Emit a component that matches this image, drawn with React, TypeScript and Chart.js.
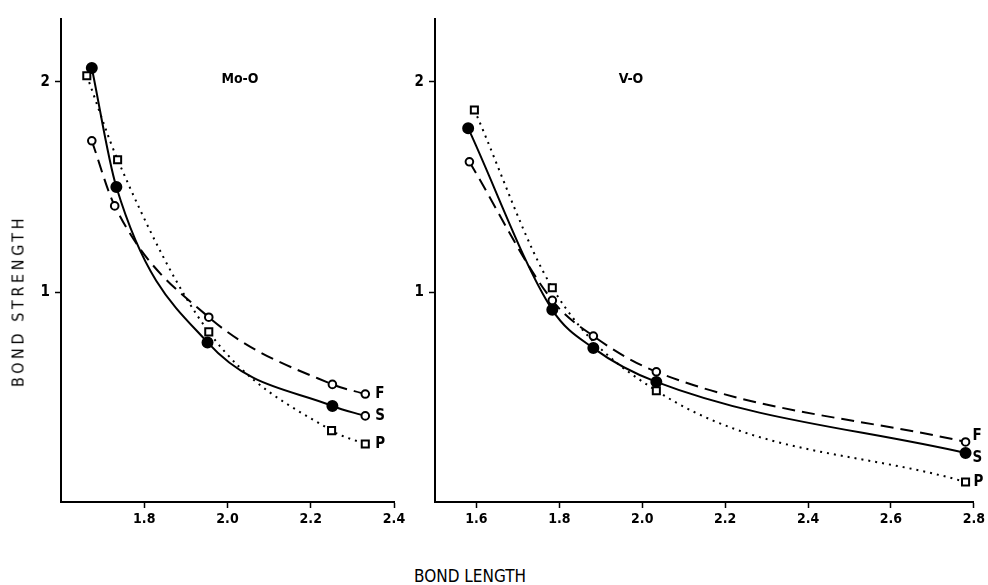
import React, { useEffect, useRef } from "react";
import { Chart, registerables } from "chart.js";

Chart.register(...registerables);

// ---- Mo-O panel data (bond length, bond strength) ----
const moF_x = [1.674, 1.729, 1.955, 2.252, 2.331];
const moF_y = [1.72, 1.41, 0.88, 0.56, 0.514];
const moS_x = [1.674, 1.733, 1.952, 2.252, 2.331];
const moS_y = [2.067, 1.5, 0.76, 0.457, 0.41];
const moP_x = [1.662, 1.736, 1.955, 2.25, 2.331];
const moP_y = [2.03, 1.63, 0.81, 0.34, 0.276];

// ---- V-O panel data ----
const vF_x = [1.583, 1.783, 1.882, 2.034, 2.78];
const vF_y = [1.62, 0.96, 0.79, 0.62, 0.286];
const vS_x = [1.58, 1.783, 1.882, 2.034, 2.78];
const vS_y = [1.78, 0.915, 0.733, 0.572, 0.233];
const vP_x = [1.595, 1.783, 2.034, 2.78];
const vP_y = [1.867, 1.02, 0.53, 0.095];

// ---- axes ----
const moXTicks = [1.8, 2.0, 2.2, 2.4];
const moXLabels = ["1.8", "2.0", "2.2", "2.4"];
const vXTicks = [1.6, 1.8, 2.0, 2.2, 2.4, 2.6, 2.8];
const vXLabels = ["1.6", "1.8", "2.0", "2.2", "2.4", "2.6", "2.8"];
const yTicks = [1, 2];
const yLabels = ["1", "2"];

const FONT = '"DejaVu Sans Condensed", "DejaVu Sans", sans-serif';

const zip = (xs: number[], ys: number[]) => xs.map((x, i) => ({ x, y: ys[i] }));

const endLabels = {
  id: "endLabels",
  afterDatasetsDraw(chart: any) {
    const { ctx } = chart;
    chart.data.datasets.forEach((ds: any) => {
      const last = ds.data[ds.data.length - 1];
      const x = chart.scales.x.getPixelForValue(last.x) + (ds.labelDx || 0);
      const y = chart.scales.y.getPixelForValue(last.y) + (ds.labelDy || 0);
      ctx.save();
      ctx.font = "bold 15px " + FONT;
      ctx.fillStyle = "#000";
      ctx.textAlign = "left";
      ctx.textBaseline = "middle";
      ctx.fillText(ds.label, x, y);
      ctx.restore();
    });
  },
};

function makeDatasets(
  F: { x: number; y: number }[],
  S: { x: number; y: number }[],
  P: { x: number; y: number }[],
  offs: { F: [number, number]; S: [number, number]; P: [number, number] },
  lastSOpen: boolean
) {
  return [
    {
      label: "P",
      data: P,
      borderColor: "#000",
      borderWidth: 2,
      borderDash: [2, 5],
      cubicInterpolationMode: "monotone",
      pointStyle: "rect",
      pointRadius: 5,
      pointBorderWidth: 2,
      pointBorderColor: "#000",
      pointBackgroundColor: "#fff",
      labelDx: offs.P[0],
      labelDy: offs.P[1],
    },
    {
      label: "F",
      data: F,
      borderColor: "#000",
      borderWidth: 2,
      borderDash: [13, 7],
      cubicInterpolationMode: "monotone",
      pointStyle: "circle",
      pointRadius: 3.8,
      pointBorderWidth: 2,
      pointBorderColor: "#000",
      pointBackgroundColor: "#fff",
      labelDx: offs.F[0],
      labelDy: offs.F[1],
    },
    {
      label: "S",
      data: S,
      borderColor: "#000",
      borderWidth: 2,
      cubicInterpolationMode: "monotone",
      pointStyle: "circle",
      pointRadius: S.map((_, i) => (lastSOpen && i === S.length - 1 ? 3.8 : 5)),
      pointBorderWidth: 2,
      pointBorderColor: "#000",
      pointBackgroundColor: S.map((_, i) => (lastSOpen && i === S.length - 1 ? "#fff" : "#000")),
      labelDx: offs.S[0],
      labelDy: offs.S[1],
    },
  ];
}

function Panel(props: {
  left: number;
  width: number;
  yWidth: number;
  padRight: number;
  xMin: number;
  xMax: number;
  xTicks: number[];
  xLabels: string[];
  datasets: any[];
}) {
  const ref = useRef<HTMLCanvasElement>(null);
  useEffect(() => {
    const chart = new Chart(ref.current as HTMLCanvasElement, {
      type: "line",
      data: { datasets: props.datasets },
      plugins: [endLabels],
      options: {
        animation: false,
        responsive: false,
        maintainAspectRatio: false,
        layout: { padding: { top: 19, right: props.padRight, bottom: 0, left: 0 } },
        plugins: { legend: { display: false }, tooltip: { enabled: false } },
        scales: {
          x: {
            type: "linear",
            min: props.xMin,
            max: props.xMax,
            afterBuildTicks: (s: any) => {
              s.ticks = props.xTicks.map((v) => ({ value: v }));
            },
            afterFit: (s: any) => {
              s.height = 38;
            },
            ticks: {
              autoSkip: false,
              maxRotation: 0,
              color: "#000",
              padding: 3,
              font: { family: FONT, size: 14, weight: "bold" },
              callback: (_v: any, i: number) => props.xLabels[i],
            },
            grid: {
              display: true,
              drawOnChartArea: false,
              drawTicks: true,
              tickLength: 6,
              tickColor: "#000",
              tickWidth: 1.5,
            },
            border: { display: true, color: "#000", width: 2 },
          },
          y: {
            type: "linear",
            min: 0,
            max: 2.3,
            afterBuildTicks: (s: any) => {
              s.ticks = yTicks.map((v) => ({ value: v }));
            },
            afterFit: (s: any) => {
              s.width = props.yWidth;
            },
            ticks: {
              autoSkip: false,
              color: "#000",
              padding: 5,
              font: { family: FONT, size: 15, weight: "bold" },
              callback: (_v: any, i: number) => yLabels[i],
            },
            grid: {
              display: true,
              drawOnChartArea: false,
              drawTicks: true,
              tickLength: 6,
              tickColor: "#000",
              tickWidth: 1.5,
            },
            border: { display: true, color: "#000", width: 2 },
          },
        },
      } as any,
    });
    return () => chart.destroy();
  }, []);
  return (
    <canvas
      ref={ref}
      width={props.width}
      height={540}
      style={{ position: "absolute", left: props.left, top: 0, width: props.width, height: 540 }}
    />
  );
}

export default function App() {
  const moSets = makeDatasets(
    zip(moF_x, moF_y),
    zip(moS_x, moS_y),
    zip(moP_x, moP_y),
    { F: [10, 0], S: [10, 0], P: [10, 0] },
    true
  );
  const vSets = makeDatasets(
    zip(vF_x, vF_y),
    zip(vS_x, vS_y),
    zip(vP_x, vP_y),
    { F: [7, -6], S: [7, 5], P: [8, 0] },
    false
  );
  const titleStyle: React.CSSProperties = {
    position: "absolute",
    font: "bold 14px " + FONT,
    color: "#000",
    transform: "translate(-50%, -50%)",
    whiteSpace: "nowrap",
  };
  return (
    <div
      style={{
        position: "absolute",
        left: 0,
        top: 0,
        width: 988,
        height: 585,
        background: "#fff",
        overflow: "hidden",
      }}
    >
      <Panel
        left={0}
        width={410}
        yWidth={61}
        padRight={16}
        xMin={1.6}
        xMax={2.4}
        xTicks={moXTicks}
        xLabels={moXLabels}
        datasets={moSets}
      />
      <Panel
        left={400}
        width={588}
        yWidth={35}
        padRight={13}
        xMin={1.5}
        xMax={2.8}
        xTicks={vXTicks}
        xLabels={vXLabels}
        datasets={vSets}
      />
      <div style={{ ...titleStyle, left: 240, top: 78 }}>Mo-O</div>
      <div style={{ ...titleStyle, left: 631, top: 78 }}>V-O</div>
      <div
        style={{
          position: "absolute",
          left: 18,
          top: 301,
          font: "16px " + FONT,
          letterSpacing: "3.6px",
          color: "#000",
          transform: "translate(-50%, -50%) rotate(-90deg)",
          whiteSpace: "nowrap",
        }}
      >
        BOND STRENGTH
      </div>
      <div
        style={{
          position: "absolute",
          left: 470,
          top: 576,
          font: "17px " + FONT,
          color: "#000",
          transform: "translate(-50%, -50%)",
          whiteSpace: "nowrap",
        }}
      >
        BOND LENGTH
      </div>
    </div>
  );
}
